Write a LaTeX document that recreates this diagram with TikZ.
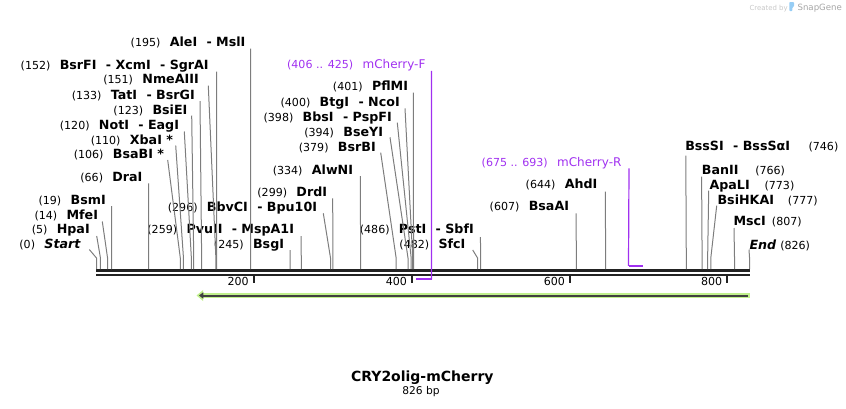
\documentclass[tikz,border=0pt]{standalone}
\usepackage{fontspec}
\setmainfont{DejaVu Sans}[ItalicFont={DejaVu Sans Oblique},BoldFont={DejaVu Sans Bold},BoldItalicFont={DejaVu Sans Bold Oblique}]
\usetikzlibrary{arrows.meta}

\definecolor{cutgray}{RGB}{125,125,125}
\definecolor{strandblack}{RGB}{34,34,34}
\definecolor{primerpurple}{RGB}{160,48,240}
\definecolor{featgreen}{RGB}{192,240,140}
\definecolor{featdark}{RGB}{64,64,64}
\definecolor{logogray}{RGB}{200,200,200}
\definecolor{logodark}{RGB}{165,165,165}
\definecolor{logoblue}{RGB}{150,205,245}

\newcommand{\sitepos}[1]{{\mdseries\fontsize{8.3}{10}\selectfont(#1)}}

\tikzset{
  enzyme/.style={inner sep=0pt, font=\fontsize{9.5}{11}\selectfont\bfseries},
  sitenum/.style={inner sep=0pt, font=\fontsize{8.3}{10}\selectfont},
  cutline/.style={draw=cutgray, line width=0.75pt},
  strand/.style={draw=strandblack},
  tickmark/.style={draw=strandblack, line width=1.5pt},
  primerlabel/.style={inner sep=0pt, text=primerpurple, font=\fontsize{9}{11}\selectfont},
  primerline/.style={draw=primerpurple, line width=0.9pt},
  primerbar/.style={draw=primerpurple, line width=1.6pt},
}

\begin{document}
\begin{tikzpicture}[x=0.75pt, y=-0.75pt]
    \useasboundingbox (0,0) rectangle (846,408);

    % cut positions on the top strand
    \foreach \p in {0,5,14,19,66,106,110,120,123,133,151,152,195,245,259,296,299,334,379,394,398,400,401,482,486,607,644,746,766,773,777,807,826}{
        \coordinate (c\p) at ({96.5+0.7906*\p},269);
        \coordinate (b\p) at ({96.5+0.7906*\p},258);
    }

    % sequence
    \coordinate (dna-w) at (96,270.8);
    \coordinate (dna-e) at (749.5,270.8);
    \coordinate (dnb-w) at (96,274.8);
    \coordinate (dnb-e) at (749.5,274.8);
    \draw[strand, line width=2.3pt] (dna-w) -- (dna-e);
    \draw[strand, line width=1.6pt] (dnb-w) -- (dnb-e);

    \foreach \tx/\tlab in {253.5/200, 411.7/400, 569.8/600, 727/800}{
        \draw[tickmark] (\tx,275.5) -- (\tx,282.5);
        \node[sitenum, anchor=base east] (tick\tlab) at ({\tx-4.5},285.5) {\tlab};
    }

    % feature arrow
    \coordinate (feat-e) at (749.5,295.5);
    \coordinate (feat-w) at (196.5,295.5);
    \coordinate (featd-e) at (748,295.5);
    \coordinate (featd-w) at (199,295.5);
    \draw[featgreen, line width=4pt, -{Triangle[length=5pt,width=8pt]}] (feat-e) -- (feat-w);
    \draw[featdark, line width=1.5pt, -{Triangle[length=3.2pt,width=4.6pt]}] (featd-e) -- (featd-w);

    % sites left of their lines
    \node[enzyme, anchor=base east] (alei) at (245.7,46) {\sitepos{195}\hspace{7pt}AleI\hspace{7pt}- MslI};
    \node[enzyme, anchor=base east] (bsrfi) at (209,69) {\sitepos{152}\hspace{7pt}BsrFI\hspace{7pt}- XcmI\hspace{7pt}- SgrAI};
    \node[enzyme, anchor=base east] (nmeaiii) at (199,83.5) {\sitepos{151}\hspace{7pt}NmeAIII};
    \node[enzyme, anchor=base east] (tati) at (195,99) {\sitepos{133}\hspace{7pt}TatI\hspace{7pt}- BsrGI};
    \node[enzyme, anchor=base east] (bsiei) at (187.7,114) {\sitepos{123}\hspace{7pt}BsiEI};
    \node[enzyme, anchor=base east] (noti) at (179.3,129) {\sitepos{120}\hspace{7pt}NotI\hspace{7pt}- EagI};
    \node[enzyme, anchor=base east] (xbai) at (173.3,144) {\sitepos{110}\hspace{7pt}XbaI *};
    \node[enzyme, anchor=base east] (bsabi) at (164.3,158.5) {\sitepos{106}\hspace{7pt}BsaBI *};
    \node[enzyme, anchor=base east] (drai) at (142.7,181) {\sitepos{66}\hspace{7pt}DraI};
    \node[enzyme, anchor=base east] (bsmi) at (106,204) {\sitepos{19}\hspace{7pt}BsmI};
    \node[enzyme, anchor=base east] (mfei) at (98.3,219) {\sitepos{14}\hspace{7pt}MfeI};
    \node[enzyme, anchor=base east] (hpai) at (90,233.5) {\sitepos{5}\hspace{7pt}HpaI};
    \node[enzyme, anchor=base east] (startsite) at (80.7,248) {\sitepos{0}\hspace{7pt}\itshape Start};
    \node[enzyme, anchor=base east] (bbvci) at (317.3,211.3) {\sitepos{296}\hspace{7pt}BbvCI\hspace{7pt}- Bpu10I};
    \node[enzyme, anchor=base east] (pvuii) at (294.3,233) {\sitepos{259}\hspace{7pt}PvuII\hspace{7pt}- MspA1I};
    \node[enzyme, anchor=base east] (bsgi) at (284.3,248) {\sitepos{245}\hspace{7pt}BsgI};
    \node[enzyme, anchor=base east] (drdi) at (327.3,196.3) {\sitepos{299}\hspace{7pt}DrdI};
    \node[enzyme, anchor=base east] (alwni) at (353.3,174) {\sitepos{334}\hspace{7pt}AlwNI};
    \node[enzyme, anchor=base east] (bsrbi) at (376,151) {\sitepos{379}\hspace{7pt}BsrBI};
    \node[enzyme, anchor=base east] (bseyi) at (383.3,136) {\sitepos{394}\hspace{7pt}BseYI};
    \node[enzyme, anchor=base east] (bbsi) at (392,121) {\sitepos{398}\hspace{7pt}BbsI\hspace{7pt}- PspFI};
    \node[enzyme, anchor=base east] (btgi) at (400,106) {\sitepos{400}\hspace{7pt}BtgI\hspace{7pt}- NcoI};
    \node[enzyme, anchor=base east] (pflmi) at (408.3,90.7) {\sitepos{401}\hspace{7pt}PflMI};
    \node[enzyme, anchor=base east] (psti) at (474,233) {\sitepos{486}\hspace{7pt}PstI\hspace{7pt}- SbfI};
    \node[enzyme, anchor=base east] (sfci) at (465.7,248) {\sitepos{482}\hspace{7pt}SfcI};
    \node[enzyme, anchor=base east] (bsaai) at (569.3,210.7) {\sitepos{607}\hspace{7pt}BsaAI};
    \node[enzyme, anchor=base east] (ahdi) at (597.7,188.3) {\sitepos{644}\hspace{7pt}AhdI};

    \draw[cutline] ([shift={(4.8,2.5)}]alei.base east) -- (b195) -- (c195);
    \draw[cutline] ([shift={(7.6,2.7)}]bsrfi.base east) -- (b152) -- (c152);
    \draw[cutline] ([shift={(9.3,2.2)}]nmeaiii.base east) -- (b151) -- (c151);
    \draw[cutline] ([shift={(5,2)}]tati.base east) -- (b133) -- (c133);
    \draw[cutline] ([shift={(4,1.5)}]bsiei.base east) -- (b123) -- (c123);
    \draw[cutline] ([shift={(5,2.5)}]noti.base east) -- (b120) -- (c120);
    \draw[cutline] ([shift={(2.4,1.5)}]xbai.base east) -- (b110) -- (c110);
    \draw[cutline] ([shift={(3.4,1.5)}]bsabi.base east) -- (b106) -- (c106);
    \draw[cutline] ([shift={(5.9,2.3)}]drai.base east) -- (b66) -- (c66);
    \draw[cutline] ([shift={(5.5,2)}]bsmi.base east) -- (b19) -- (c19);
    \draw[cutline] ([shift={(4,2.5)}]mfei.base east) -- (b14) -- (c14);
    \draw[cutline] ([shift={(6.7,2.5)}]hpai.base east) -- (b5) -- (c5);
    \draw[cutline] ([shift={(8.6,1.5)}]startsite.base east) -- (b0) -- (c0);
    \draw[cutline] ([shift={(6,2)}]bbvci.base east) -- (b296) -- (c296);
    \draw[cutline] ([shift={(6.8,3)}]pvuii.base east) -- (b259) -- (c259);
    \draw[cutline] ([shift={(5.8,2)}]bsgi.base east) -- (b245) -- (c245);
    \draw[cutline] ([shift={(5.4,2)}]drdi.base east) -- (b299) -- (c299);
    \draw[cutline] ([shift={(7.1,2)}]alwni.base east) -- (b334) -- (c334);
    \draw[cutline] ([shift={(4.7,1.7)}]bsrbi.base east) -- (b379) -- (c379);
    \draw[cutline] ([shift={(6.7,1.3)}]bseyi.base east) -- (b394) -- (c394);
    \draw[cutline] ([shift={(5.3,1.7)}]bbsi.base east) -- (b398) -- (c398);
    \draw[cutline] ([shift={(5,2.3)}]btgi.base east) -- (b400) -- (c400);
    \draw[cutline] ([shift={(5,2)}]pflmi.base east) -- (b401) -- (c401);
    \draw[cutline] ([shift={(6.4,4)}]psti.base east) -- (b486) -- (c486);
    \draw[cutline] ([shift={(7,2)}]sfci.base east) -- (b482) -- (c482);
    \draw[cutline] ([shift={(6.7,2.6)}]bsaai.base east) -- (b607) -- (c607);
    \draw[cutline] ([shift={(7.6,3.4)}]ahdi.base east) -- (b644) -- (c644);

    % sites right of their lines
    \node[enzyme, anchor=base west] (bsssi) at (685,150) {BssSI\hspace{7pt}- BssSαI};
    \node[enzyme, anchor=base west] (banii) at (701.7,174) {BanII};
    \node[enzyme, anchor=base west] (apali) at (709.3,189) {ApaLI};
    \node[enzyme, anchor=base west] (bsihkai) at (717.3,204) {BsiHKAI};
    \node[enzyme, anchor=base west] (msci) at (733.3,225.7) {MscI};
    \node[enzyme, anchor=base west] (endsite) at (749.3,249) {\itshape End};
    \node[sitenum, anchor=base west] (bsssi-pos) at (808.3,150) {(746)};
    \node[sitenum, anchor=base west] (banii-pos) at (755,174) {(766)};
    \node[sitenum, anchor=base west] (apali-pos) at (764.3,189) {(773)};
    \node[sitenum, anchor=base west] (bsihkai-pos) at (787.7,204) {(777)};
    \node[sitenum, anchor=base west] (msci-pos) at (771.7,225.7) {(807)};
    \node[sitenum, anchor=base west] (endsite-pos) at (780,249) {(826)};

    \draw[cutline] ([shift={(0.8,5.7)}]bsssi.base west) -- (b746) -- (c746);
    \draw[cutline] ([shift={(-0.1,2.7)}]banii.base west) -- (b766) -- (c766);
    \draw[cutline] ([shift={(-0.6,1.7)}]apali.base west) -- (b773) -- (c773);
    \draw[cutline] ([shift={(-0.6,1.7)}]bsihkai.base west) -- (b777) -- (c777);
    \draw[cutline] ([shift={(0.7,2.3)}]msci.base west) -- (b807) -- (c807);
    \draw[cutline] ([shift={(-0.3,0.5)}]endsite.base west) -- (b826) -- (c826);

    % primers
    \node[primerlabel, anchor=base east] (mcherryf) at (425.7,68.3) {{\fontsize{8.3}{10}\selectfont(406 .. 425)}\hspace{7pt}mCherry-F};
    \node[primerlabel, anchor=base east] (mcherryr) at (621.7,166) {{\fontsize{8.3}{10}\selectfont(675 .. 693)}\hspace{7pt}mCherry-R};
    \coordinate (fbar-w) at (416,279.3);
    \coordinate (fbar-e) at (431.5,279.3);
    \coordinate (rbar-w) at (628.5,265.8);
    \coordinate (rbar-e) at (643,265.8);
    \draw[primerline] ([shift={(5.8,2.5)}]mcherryf.base east) -- (fbar-e);
    \draw[primerbar] (fbar-w) -- (fbar-e);
    \draw[primerline] ([shift={(7.3,2.3)}]mcherryr.base east) -- (rbar-w);
    \draw[primerbar] (rbar-w) -- (rbar-e);

    % title
    \node[font=\fontsize{10.5}{12}\selectfont\bfseries, anchor=base] (title) at (422.3,381.7) {CRY2olig-mCherry};
    \node[font=\fontsize{8}{9}\selectfont, anchor=base] (length) at (421,394.5) {826 bp};

    % logo
    \node[font=\fontsize{5.2}{6}\selectfont, text=logogray, anchor=base west, inner sep=0pt] (createdby) at (749.3,10.5) {Created by};
    \fill[logoblue, rounded corners=0.6pt] (789.3,2) -- (794,2) -- (794,6.5) -- (792.3,7.5) -- (792.3,11) -- (789.3,11) -- cycle;
    \node[font=\fontsize{6.45}{8}\selectfont, text=logodark, anchor=base west, inner sep=0pt] (snapgene) at (797.3,10.7) {SnapGene};
\end{tikzpicture}
\end{document}
